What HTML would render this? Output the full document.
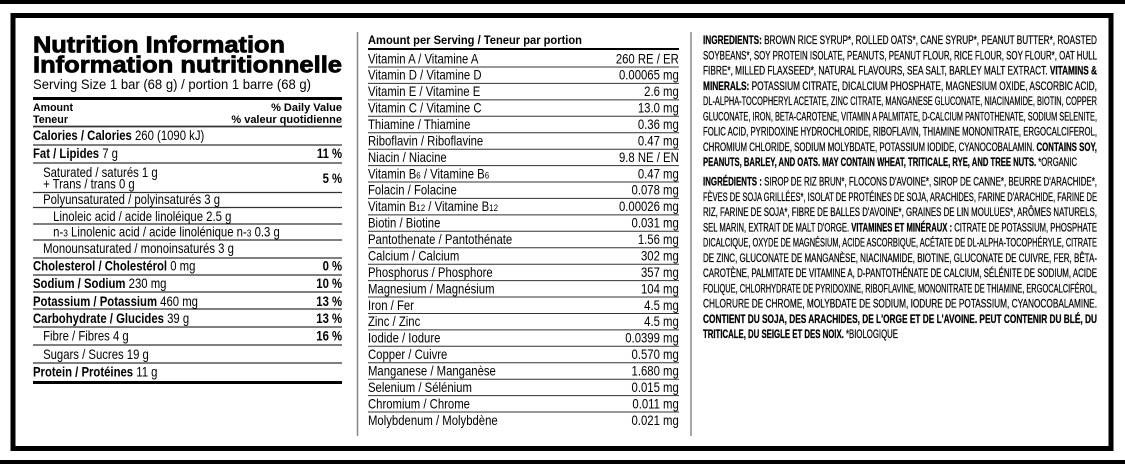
<!DOCTYPE html>
<html><head><meta charset="utf-8"><style>
html,body{margin:0;padding:0;background:#fff;}
svg{display:block;}
text{font-family:"Liberation Sans",sans-serif;fill:#000;}
</style></head><body>
<svg width="1125" height="464" viewBox="0 0 1125 464" xmlns="http://www.w3.org/2000/svg">
<rect x="0" y="0" width="1125" height="4" fill="#000"/>
<rect x="0" y="460" width="1125" height="4" fill="#000"/>
<rect x="13" y="15.5" width="1098" height="433" fill="none" stroke="#000" stroke-width="5"/>
<line x1="357.5" y1="32" x2="357.5" y2="436" stroke="#888" stroke-width="1.5"/>
<line x1="691" y1="32" x2="691" y2="436" stroke="#888" stroke-width="1.5"/>

<!-- LEFT COLUMN -->
<text x="33" y="52.7" font-size="23" font-weight="bold" stroke="#000" stroke-width="0.8" textLength="252" lengthAdjust="spacingAndGlyphs">Nutrition Information</text>
<text x="33" y="72.7" font-size="23" font-weight="bold" stroke="#000" stroke-width="0.8" textLength="309" lengthAdjust="spacingAndGlyphs">Information nutritionnelle</text>
<text x="33" y="89" font-size="14" fill="#222" textLength="278" lengthAdjust="spacingAndGlyphs">Serving Size 1 bar (68 g) / portion 1 barre (68 g)</text>
<rect x="33" y="97" width="309" height="3" fill="#000"/>
<g font-size="11" font-weight="bold">
<text x="33" y="111" textLength="40" lengthAdjust="spacingAndGlyphs">Amount</text>
<text x="33" y="123" textLength="35" lengthAdjust="spacingAndGlyphs">Teneur</text>
<text x="342" y="111" text-anchor="end">% Daily Value</text>
<text x="342" y="123" text-anchor="end">% valeur quotidienne</text>
</g>
<g stroke="#333" stroke-width="1.2">
<line x1="33" y1="126.5" x2="342" y2="126.5" stroke-width="1.8"/>
<line x1="33" y1="145" x2="342" y2="145"/>
<line x1="33" y1="163" x2="342" y2="163"/>
<line x1="33" y1="192.5" x2="342" y2="192.5"/>
<line x1="33" y1="207.5" x2="342" y2="207.5"/>
<line x1="33" y1="224" x2="342" y2="224"/>
<line x1="33" y1="240" x2="342" y2="240"/>
<line x1="33" y1="258" x2="342" y2="258"/>
<line x1="33" y1="275" x2="342" y2="275"/>
<line x1="33" y1="292" x2="342" y2="292"/>
<line x1="33" y1="309" x2="342" y2="309"/>
<line x1="33" y1="327" x2="342" y2="327"/>
<line x1="33" y1="345" x2="342" y2="345"/>
<line x1="33" y1="363" x2="342" y2="363"/>
</g>
<rect x="33" y="381" width="309" height="3" fill="#000"/>
<g transform="translate(33,0) scale(0.84,1)" font-size="13.5" fill="#222">
<text x="0" y="140"><tspan font-weight="bold" fill="#000">Calories / Calories</tspan> 260 (1090 kJ)</text>
<text x="0" y="158"><tspan font-weight="bold" fill="#000">Fat / Lipides</tspan> 7 g</text>
<text x="12" y="177">Saturated / saturés 1 g</text>
<text x="12" y="188.5">+ Trans / trans 0 g</text>
<text x="12" y="204">Polyunsaturated / polyinsaturés 3 g</text>
<text x="24" y="221">Linoleic acid / acide linoléique 2.5 g</text>
<text x="24" y="236.5">n-<tspan font-size="10">3</tspan> Linolenic acid / acide linolénique n-<tspan font-size="10">3</tspan> 0.3 g</text>
<text x="12" y="253">Monounsaturated / monoinsaturés 3 g</text>
<text x="0" y="270.7"><tspan font-weight="bold" fill="#000">Cholesterol / Cholestérol</tspan> 0 mg</text>
<text x="0" y="288"><tspan font-weight="bold" fill="#000">Sodium / Sodium</tspan> 230 mg</text>
<text x="0" y="306"><tspan font-weight="bold" fill="#000">Potassium / Potassium</tspan> 460 mg</text>
<text x="0" y="323"><tspan font-weight="bold" fill="#000">Carbohydrate / Glucides</tspan> 39 g</text>
<text x="12" y="340.7">Fibre / Fibres 4 g</text>
<text x="12" y="359">Sugars / Sucres 19 g</text>
<text x="0" y="376.7"><tspan font-weight="bold" fill="#000">Protein / Protéines</tspan> 11 g</text>
<g font-weight="bold" fill="#000" text-anchor="end">
<text x="368" y="158">11 %</text>
<text x="368" y="183">5 %</text>
<text x="368" y="270.7">0 %</text>
<text x="368" y="288">10 %</text>
<text x="368" y="306">13 %</text>
<text x="368" y="323">13 %</text>
<text x="368" y="340.7">16 %</text>
</g>
</g>

<!-- MIDDLE COLUMN -->
<text x="368" y="44" font-size="12" font-weight="bold" textLength="214" lengthAdjust="spacingAndGlyphs">Amount per Serving / Teneur par portion</text>
<rect x="368" y="48" width="311" height="2" fill="#000"/>
<g stroke="#333" stroke-width="1">
<line x1="368" y1="67" x2="679" y2="67"/><line x1="368" y1="83.4" x2="679" y2="83.4"/><line x1="368" y1="99.9" x2="679" y2="99.9"/><line x1="368" y1="116.3" x2="679" y2="116.3"/><line x1="368" y1="132.7" x2="679" y2="132.7"/><line x1="368" y1="149.2" x2="679" y2="149.2"/><line x1="368" y1="165.6" x2="679" y2="165.6"/><line x1="368" y1="182" x2="679" y2="182"/><line x1="368" y1="198.4" x2="679" y2="198.4"/><line x1="368" y1="214.9" x2="679" y2="214.9"/><line x1="368" y1="231.3" x2="679" y2="231.3"/><line x1="368" y1="247.7" x2="679" y2="247.7"/><line x1="368" y1="264.2" x2="679" y2="264.2"/><line x1="368" y1="280.6" x2="679" y2="280.6"/><line x1="368" y1="297" x2="679" y2="297"/><line x1="368" y1="313.5" x2="679" y2="313.5"/><line x1="368" y1="329.9" x2="679" y2="329.9"/><line x1="368" y1="346.3" x2="679" y2="346.3"/><line x1="368" y1="362.7" x2="679" y2="362.7"/><line x1="368" y1="379.2" x2="679" y2="379.2"/><line x1="368" y1="395.6" x2="679" y2="395.6"/><line x1="368" y1="412" x2="679" y2="412"/>
</g>
<g transform="translate(368,0) scale(0.84,1)" font-size="13.5" fill="#222">
<g>
<text x="0" y="63.3">Vitamin A / Vitamine A</text>
<text x="0" y="79.7">Vitamin D / Vitamine D</text>
<text x="0" y="96.2">Vitamin E / Vitamine E</text>
<text x="0" y="112.6">Vitamin C / Vitamine C</text>
<text x="0" y="129">Thiamine / Thiamine</text>
<text x="0" y="145.5">Riboflavin / Riboflavine</text>
<text x="0" y="161.9">Niacin / Niacine</text>
<text x="0" y="178.3">Vitamin B<tspan font-size="9.5">6</tspan> / Vitamine B<tspan font-size="9.5">6</tspan></text>
<text x="0" y="194.7">Folacin / Folacine</text>
<text x="0" y="211.2">Vitamin B<tspan font-size="9.5">12</tspan> / Vitamine B<tspan font-size="9.5">12</tspan></text>
<text x="0" y="227.6">Biotin / Biotine</text>
<text x="0" y="244">Pantothenate / Pantothénate</text>
<text x="0" y="260.5">Calcium / Calcium</text>
<text x="0" y="276.9">Phosphorus / Phosphore</text>
<text x="0" y="293.3">Magnesium / Magnésium</text>
<text x="0" y="309.8">Iron / Fer</text>
<text x="0" y="326.2">Zinc / Zinc</text>
<text x="0" y="342.6">Iodide / Iodure</text>
<text x="0" y="359">Copper / Cuivre</text>
<text x="0" y="375.5">Manganese / Manganèse</text>
<text x="0" y="391.9">Selenium / Sélénium</text>
<text x="0" y="408.3">Chromium / Chrome</text>
<text x="0" y="424.8">Molybdenum / Molybdène</text>
</g>
<g text-anchor="end">
<text x="370" y="63.3">260 RE / ER</text>
<text x="370" y="79.7">0.00065 mg</text>
<text x="370" y="96.2">2.6 mg</text>
<text x="370" y="112.6">13.0 mg</text>
<text x="370" y="129">0.36 mg</text>
<text x="370" y="145.5">0.47 mg</text>
<text x="370" y="161.9">9.8 NE / EN</text>
<text x="370" y="178.3">0.47 mg</text>
<text x="370" y="194.7">0.078 mg</text>
<text x="370" y="211.2">0.00026 mg</text>
<text x="370" y="227.6">0.031 mg</text>
<text x="370" y="244">1.56 mg</text>
<text x="370" y="260.5">302 mg</text>
<text x="370" y="276.9">357 mg</text>
<text x="370" y="293.3">104 mg</text>
<text x="370" y="309.8">4.5 mg</text>
<text x="370" y="326.2">4.5 mg</text>
<text x="370" y="342.6">0.0399 mg</text>
<text x="370" y="359">0.570 mg</text>
<text x="370" y="375.5">1.680 mg</text>
<text x="370" y="391.9">0.015 mg</text>
<text x="370" y="408.3">0.011 mg</text>
<text x="370" y="424.8">0.021 mg</text>
</g>
</g>

<!-- RIGHT COLUMN -->
<g font-size="11.5" stroke="#000" stroke-width="0.25">
<text x="703" y="44" textLength="394" lengthAdjust="spacingAndGlyphs"><tspan font-weight="bold">INGREDIENTS:</tspan> BROWN RICE SYRUP*, ROLLED OATS*, CANE SYRUP*, PEANUT BUTTER*, ROASTED</text>
<text x="703" y="59.25" textLength="394" lengthAdjust="spacingAndGlyphs">SOYBEANS*, SOY PROTEIN ISOLATE, PEANUTS, PEANUT FLOUR, RICE FLOUR, SOY FLOUR*, OAT HULL</text>
<text x="703" y="74.5" textLength="394" lengthAdjust="spacingAndGlyphs">FIBRE*, MILLED FLAXSEED*, NATURAL FLAVOURS, SEA SALT, BARLEY MALT EXTRACT. <tspan font-weight="bold">VITAMINS &amp;</tspan></text>
<text x="703" y="89.75" textLength="394" lengthAdjust="spacingAndGlyphs"><tspan font-weight="bold">MINERALS:</tspan> POTASSIUM CITRATE, DICALCIUM PHOSPHATE, MAGNESIUM OXIDE, ASCORBIC ACID,</text>
<text x="703" y="105" textLength="394" lengthAdjust="spacingAndGlyphs">DL-ALPHA-TOCOPHERYL ACETATE, ZINC CITRATE, MANGANESE GLUCONATE, NIACINAMIDE, BIOTIN, COPPER</text>
<text x="703" y="120.25" textLength="394" lengthAdjust="spacingAndGlyphs">GLUCONATE, IRON, BETA-CAROTENE, VITAMIN A PALMITATE, D-CALCIUM PANTOTHENATE, SODIUM SELENITE,</text>
<text x="703" y="135.5" textLength="394" lengthAdjust="spacingAndGlyphs">FOLIC ACID, PYRIDOXINE HYDROCHLORIDE, RIBOFLAVIN, THIAMINE MONONITRATE, ERGOCALCIFEROL,</text>
<text x="703" y="150.75" textLength="394" lengthAdjust="spacingAndGlyphs">CHROMIUM CHLORIDE, SODIUM MOLYBDATE, POTASSIUM IODIDE, CYANOCOBALAMIN. <tspan font-weight="bold">CONTAINS SOY,</tspan></text>
<text x="703" y="166" textLength="374" lengthAdjust="spacingAndGlyphs"><tspan font-weight="bold">PEANUTS, BARLEY, AND OATS. MAY CONTAIN WHEAT, TRITICALE, RYE, AND TREE NUTS.</tspan> *ORGANIC</text>

<text x="703" y="185.5" textLength="394" lengthAdjust="spacingAndGlyphs"><tspan font-weight="bold">INGRÉDIENTS :</tspan> SIROP DE RIZ BRUN*, FLOCONS D'AVOINE*, SIROP DE CANNE*, BEURRE D'ARACHIDE*,</text>
<text x="703" y="200.75" textLength="394" lengthAdjust="spacingAndGlyphs">FÈVES DE SOJA GRILLÉES*, ISOLAT DE PROTÉINES DE SOJA, ARACHIDES, FARINE D'ARACHIDE, FARINE DE</text>
<text x="703" y="216" textLength="394" lengthAdjust="spacingAndGlyphs">RIZ, FARINE DE SOJA*, FIBRE DE BALLES D'AVOINE*, GRAINES DE LIN MOULUES*, ARÔMES NATURELS,</text>
<text x="703" y="231.25" textLength="394" lengthAdjust="spacingAndGlyphs">SEL MARIN, EXTRAIT DE MALT D'ORGE. <tspan font-weight="bold">VITAMINES ET MINÉRAUX :</tspan> CITRATE DE POTASSIUM, PHOSPHATE</text>
<text x="703" y="246.5" textLength="394" lengthAdjust="spacingAndGlyphs">DICALCIQUE, OXYDE DE MAGNÉSIUM, ACIDE ASCORBIQUE, ACÉTATE DE DL-ALPHA-TOCOPHÉRYLE, CITRATE</text>
<text x="703" y="261.75" textLength="394" lengthAdjust="spacingAndGlyphs">DE ZINC, GLUCONATE DE MANGANÈSE, NIACINAMIDE, BIOTINE, GLUCONATE DE CUIVRE, FER, BÊTA-</text>
<text x="703" y="277" textLength="394" lengthAdjust="spacingAndGlyphs">CAROTÈNE, PALMITATE DE VITAMINE A, D-PANTOTHÉNATE DE CALCIUM, SÉLÉNITE DE SODIUM, ACIDE</text>
<text x="703" y="292.25" textLength="394" lengthAdjust="spacingAndGlyphs">FOLIQUE, CHLORHYDRATE DE PYRIDOXINE, RIBOFLAVINE, MONONITRATE DE THIAMINE, ERGOCALCIFÉROL,</text>
<text x="703" y="307.5" textLength="394" lengthAdjust="spacingAndGlyphs">CHLORURE DE CHROME, MOLYBDATE DE SODIUM, IODURE DE POTASSIUM, CYANOCOBALAMINE.</text>
<text x="703" y="322.75" textLength="394" lengthAdjust="spacingAndGlyphs" font-weight="bold">CONTIENT DU SOJA, DES ARACHIDES, DE L'ORGE ET DE L'AVOINE. PEUT CONTENIR DU BLÉ, DU</text>
<text x="703" y="338" textLength="195" lengthAdjust="spacingAndGlyphs"><tspan font-weight="bold">TRITICALE, DU SEIGLE ET DES NOIX.</tspan> *BIOLOGIQUE</text>
</g>
</svg>
</body></html>
